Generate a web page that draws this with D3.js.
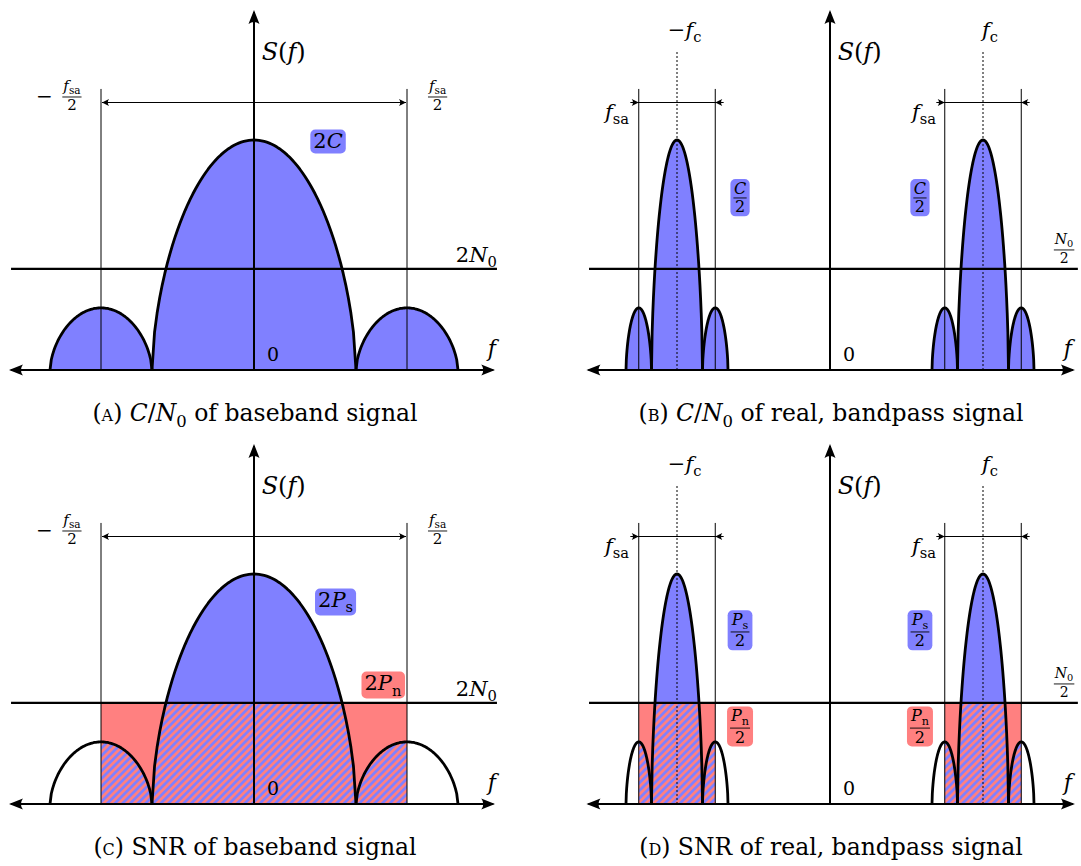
<!DOCTYPE html>
<html>
<head>
<meta charset="utf-8">
<script src="https://cdn.jsdelivr.net/npm/d3@7"></script>
<style>
  body { margin: 0; background: #fff; }
  svg { display: block; }
  text { font-family: "DejaVu Serif", "Liberation Serif", serif; fill: #000; }
</style>
</head>
<body>
<svg id="fig" width="1081" height="866"></svg>
<script>
// spectrum values, frequency in units of fsa/2 (baseband), level relative to the main lobe peak
const lobeCenter = [-1, 0, 1];
const lobeHalfWidth = [1/3, 2/3, 1/3];
const lobeHeight = [0.27, 1, 0.27];
const noiseLevel = 0.44;
const carrier = 1;        // fc
const bandRatio = 0.25;   // bandpass sampling band relative to baseband one
const lobePower = 0.6;    // roundness of the drawn lobes

const BLUE = "#8080ff", RED = "#ff8080";
const PX_X = 153, PX_Y = 230;

const captions = {
  a: [{t:"("},{t:"a",sc:1},{t:") "},{t:"C",it:1},{t:"/"},{t:"N",it:1},{t:"0",sub:1},{t:" of baseband signal"}],
  b: [{t:"("},{t:"b",sc:1},{t:") "},{t:"C",it:1},{t:"/"},{t:"N",it:1},{t:"0",sub:1},{t:" of real, bandpass signal"}],
  c: [{t:"("},{t:"c",sc:1},{t:") SNR of baseband signal"}],
  d: [{t:"("},{t:"d",sc:1},{t:") SNR of real, bandpass signal"}]
};

const panels = [
  {id:"a", band:false, snr:false, x0:254, y0:370, axis:[-1.615, 1.59], noise:[-1.588, 1.588]},
  {id:"b", band:true,  snr:false, x0:830, y0:370, axis:[-1.605, 1.614], noise:[-1.575, 1.62]},
  {id:"c", band:false, snr:true,  x0:254, y0:804, axis:[-1.615, 1.59], noise:[-1.588, 1.588]},
  {id:"d", band:true,  snr:true,  x0:830, y0:804, axis:[-1.605, 1.614], noise:[-1.575, 1.62]}
];

const svg = d3.select("#fig");
const defs = svg.append("defs");

// hatch for the signal part that lies under the noise
const hatch = defs.append("pattern")
    .attr("id", "hatch")
    .attr("patternUnits", "userSpaceOnUse")
    .attr("width", 5.4).attr("height", 5.4)
    .attr("patternTransform", "rotate(45)");
hatch.append("rect").attr("width", 5.4).attr("height", 5.4).attr("fill", RED);
hatch.append("rect").attr("width", 2.7).attr("height", 5.4).attr("fill", BLUE);

// arrow heads
defs.append("marker")
    .attr("id", "stealth")
    .attr("viewBox", "-14 -7 16 14")
    .attr("markerWidth", 16).attr("markerHeight", 14)
    .attr("markerUnits", "userSpaceOnUse")
    .attr("refX", 0).attr("refY", 0)
    .attr("orient", "auto-start-reverse")
  .append("path")
    .attr("d", "M2,0 L-12,-5.5 Q-8,0 -12,5.5 Z")
    .attr("fill", "#000");

defs.append("marker")
    .attr("id", "tip")
    .attr("viewBox", "-9 -5 10 10")
    .attr("markerWidth", 10).attr("markerHeight", 10)
    .attr("markerUnits", "userSpaceOnUse")
    .attr("refX", 0).attr("refY", 0)
    .attr("orient", "auto-start-reverse")
  .append("path")
    .attr("d", "M0,0 L-7,-3.5 Q-4.5,0 -7,3.5 Z")
    .attr("fill", "#000");

// writes math-like text into a <text> element
function rich(sel, parts, size) {
  let shift = 0;
  parts.forEach(p => {
    const target = p.sub ? size * 0.24 : 0;
    const ts = sel.append("tspan")
        .text(p.t)
        .attr("dy", target - shift)
        .attr("font-size", p.sub ? size * 0.7 : size)
        .attr("font-style", p.it ? "italic" : "normal");
    if (p.sc) ts.attr("font-variant", "small-caps");
    shift = target;
  });
  return sel;
}

function label(g, x, y, parts, size, anchor) {
  return rich(g.append("text")
      .attr("x", x).attr("y", y)
      .attr("text-anchor", anchor || "start"), parts, size);
}

function frac(g, cx, barY, num, den, size) {
  const hasSub = num.some(d => d.sub);
  const t1 = label(g, cx, barY - size * (hasSub ? 0.42 : 0.24), num, size, "middle");
  const t2 = label(g, cx, barY + size * 0.9, den, size, "middle");
  const w = Math.max(t1.node().getBBox().width, t2.node().getBBox().width) + 1;
  g.append("line")
      .attr("x1", cx - w / 2).attr("x2", cx + w / 2)
      .attr("y1", barY).attr("y2", barY)
      .attr("stroke", "#000").attr("stroke-width", 0.9);
}

// coloured rounded box behind a label
function boxed(g, fill, draw) {
  const bg = g.append("g");
  draw(bg);
  const bb = bg.node().getBBox();
  bg.insert("rect", ":first-child")
      .attr("x", bb.x - 3).attr("y", bb.y)
      .attr("width", bb.width + 6).attr("height", bb.height)
      .attr("rx", 5)
      .attr("fill", fill);
}

const lobeShape = u => Math.pow(Math.max(0, 1 - u * u), lobePower);

panels.forEach(p => {
  const x = d3.scaleLinear().domain([0, 1]).range([p.x0, p.x0 + PX_X]);
  const y = d3.scaleLinear().domain([0, 1]).range([p.y0, p.y0 - PX_Y]);
  const g = svg.append("g").attr("id", "panel_" + p.id);

  // lobes and sampling bands of this panel
  const centers = p.band ? [-carrier, carrier] : [0];
  const r = p.band ? bandRatio : 1;
  const lobes = [];
  centers.forEach(c => lobeCenter.forEach((lc, i) => lobes.push({
    c: c + lc * r, w: lobeHalfWidth[i] * r, h: lobeHeight[i]
  })));
  const bands = centers.map(c => [c - r, c + r]);

  const pts = l => d3.range(0, 81).map(i => {
    const u = -1 + i / 40;
    return [l.c + u * l.w, l.h * lobeShape(u)];
  });
  const area = d3.area().x(d => x(d[0])).y0(y(0)).y1(d => y(d[1]));
  const line = d3.line().x(d => x(d[0])).y(d => y(d[1]));

  if (p.snr) {
    const cn = defs.append("clipPath").attr("id", "under_" + p.id);
    bands.forEach(b => cn.append("rect")
        .attr("x", x(b[0])).attr("y", y(noiseLevel))
        .attr("width", x(b[1]) - x(b[0])).attr("height", y(0) - y(noiseLevel)));
    defs.append("clipPath").attr("id", "over_" + p.id)
      .append("rect")
        .attr("x", x(-2)).attr("y", y(2))
        .attr("width", x(2) - x(-2)).attr("height", y(noiseLevel) - y(2));

    g.selectAll(".noise_rect").data(bands).join("rect")
        .attr("class", "noise_rect")
        .attr("x", b => x(b[0])).attr("y", y(noiseLevel))
        .attr("width", b => x(b[1]) - x(b[0]))
        .attr("height", y(0) - y(noiseLevel))
        .attr("fill", RED);
    g.append("g").attr("clip-path", `url(#under_${p.id})`)
      .selectAll("path").data(lobes).join("path")
        .attr("d", l => area(pts(l)))
        .attr("fill", "url(#hatch)");
    g.append("g").attr("clip-path", `url(#over_${p.id})`)
      .selectAll("path").data(lobes).join("path")
        .attr("d", l => area(pts(l)))
        .attr("fill", BLUE);
  } else {
    g.selectAll(".lobe_fill").data(lobes).join("path")
        .attr("class", "lobe_fill")
        .attr("d", l => area(pts(l)))
        .attr("fill", BLUE);
  }

  // sampling band edges
  const edges = bands.flat();
  g.selectAll(".edge").data(edges).join("line")
      .attr("class", "edge")
      .attr("x1", d => x(d)).attr("x2", d => x(d))
      .attr("y1", y(0)).attr("y2", y(1.222))
      .attr("stroke", "#000").attr("stroke-width", 1);

  // carrier marks
  if (p.band) {
    g.selectAll(".carrier").data(centers).join("line")
        .attr("class", "carrier")
        .attr("x1", d => x(d)).attr("x2", d => x(d))
        .attr("y1", y(0)).attr("y2", y(1.391))
        .attr("stroke", "#000").attr("stroke-width", 1)
        .attr("stroke-dasharray", "2,2");
  }

  g.selectAll(".lobe_line").data(lobes).join("path")
      .attr("class", "lobe_line")
      .attr("d", l => line(pts(l)))
      .attr("fill", "none")
      .attr("stroke", "#000").attr("stroke-width", 2.8)
      .attr("stroke-linejoin", "round");

  // noise level
  g.append("line")
      .attr("x1", x(p.noise[0])).attr("x2", x(p.noise[1]))
      .attr("y1", y(noiseLevel)).attr("y2", y(noiseLevel))
      .attr("stroke", "#000").attr("stroke-width", 2.2);

  // axes
  g.append("line")
      .attr("x1", x(p.axis[0]) + 4).attr("x2", x(p.axis[1]) - 4)
      .attr("y1", y(0)).attr("y2", y(0))
      .attr("stroke", "#000").attr("stroke-width", 2)
      .attr("marker-start", "url(#stealth)")
      .attr("marker-end", "url(#stealth)");
  g.append("line")
      .attr("x1", x(0)).attr("x2", x(0))
      .attr("y1", y(0)).attr("y2", y(1.574) + 4)
      .attr("stroke", "#000").attr("stroke-width", 2)
      .attr("marker-end", "url(#stealth)");

  // sampling band width arrows
  if (p.band) {
    bands.forEach(b => {
      g.append("line")
          .attr("x1", x(b[0] - 0.055)).attr("x2", x(b[1] + 0.055))
          .attr("y1", y(1.163)).attr("y2", y(1.163))
          .attr("stroke", "#000").attr("stroke-width", 1);
      g.append("line")
          .attr("x1", x(b[0] - 0.05)).attr("x2", x(b[0]))
          .attr("y1", y(1.163)).attr("y2", y(1.163))
          .attr("stroke", "none")
          .attr("marker-end", "url(#tip)");
      g.append("line")
          .attr("x1", x(b[1] + 0.05)).attr("x2", x(b[1]))
          .attr("y1", y(1.163)).attr("y2", y(1.163))
          .attr("stroke", "none")
          .attr("marker-end", "url(#tip)");
    });
  } else {
    g.append("line")
        .attr("x1", x(bands[0][0]) + 1).attr("x2", x(bands[0][1]) - 1)
        .attr("y1", y(1.163)).attr("y2", y(1.163))
        .attr("stroke", "#000").attr("stroke-width", 1)
        .attr("marker-start", "url(#tip)")
        .attr("marker-end", "url(#tip)");
  }

  // labels
  label(g, x(0.05), y(1.35), [{t:"S",it:1},{t:"("},{t:"f",it:1},{t:")"}], 24);
  label(g, x(0.085), y(0.04), [{t:"0"}], 19);
  label(g, x(1.555), y(0.06), [{t:"f",it:1}], 22, "middle");

  const fsa = [{t:"f",it:1},{t:"sa",sub:1}];
  if (!p.band) {
    label(g, x(-1.37), y(1.187) + 6, [{t:"−"}], 20, "middle");
    frac(g, x(-1.19), y(1.187), fsa, [{t:"2"}], 15);
    frac(g, x(1.2), y(1.187), fsa, [{t:"2"}], 15);
    label(g, x(1.588), y(0.47), [{t:"2"},{t:"N",it:1},{t:"0",sub:1}], 21, "end");
    if (!p.snr) {
      boxed(g, BLUE, bg => label(bg, x(0.484), y(0.998) + 8, [{t:"2"},{t:"C",it:1}], 21, "middle"));
    } else {
      boxed(g, BLUE, bg => label(bg, x(0.533), y(0.885) + 7, [{t:"2"},{t:"P",it:1},{t:"s",sub:1}], 21, "middle"));
      boxed(g, RED, bg => label(bg, x(0.843), y(0.524) + 7, [{t:"2"},{t:"P",it:1},{t:"n",sub:1}], 21, "middle"));
    }
  } else {
    label(g, x(-carrier + 0.05), y(1.448), [{t:"−"},{t:"f",it:1},{t:"c",sub:1}], 21, "middle");
    label(g, x(carrier + 0.045), y(1.448), [{t:"f",it:1},{t:"c",sub:1}], 21, "middle");
    label(g, x(-1.314), y(1.091), fsa, 21, "end");
    label(g, x(0.693), y(1.091), fsa, 21, "end");
    frac(g, x(1.53), y(0.522), [{t:"N",it:1},{t:"0",sub:1}], [{t:"2"}], 14);
    [-0.588, 0.588].forEach(cx => {
      if (!p.snr) {
        boxed(g, BLUE, bg => frac(bg, x(cx), y(0.748), [{t:"C",it:1}], [{t:"2"}], 16));
      } else {
        boxed(g, BLUE, bg => frac(bg, x(cx), y(0.748), [{t:"P",it:1},{t:"s",sub:1}], [{t:"2"}], 16));
        boxed(g, RED, bg => frac(bg, x(cx), y(0.33), [{t:"P",it:1},{t:"n",sub:1}], [{t:"2"}], 16));
      }
    });
  }

  label(g, p.x0 + 1, p.y0 + 51, captions[p.id], 23.5, "middle");
});
</script>
</body>
</html>
